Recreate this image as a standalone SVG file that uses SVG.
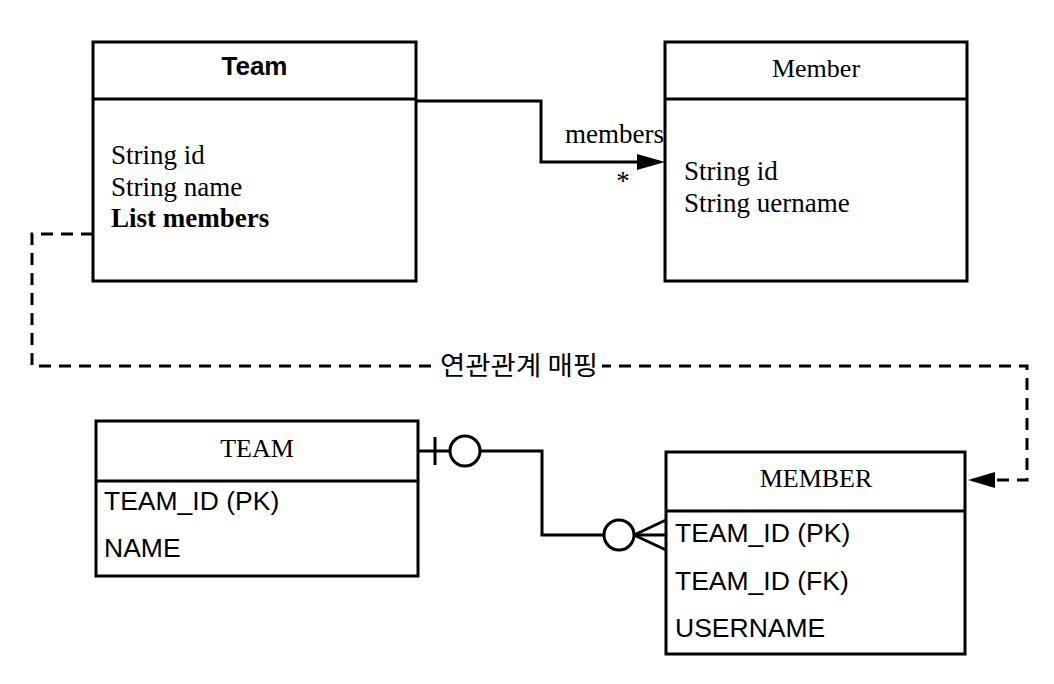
<svg xmlns="http://www.w3.org/2000/svg" width="1054" height="684" viewBox="0 0 1054 684">
<style>
.box{fill:#fff;stroke:#000;stroke-width:3}
.div{stroke:#000;stroke-width:3}
.ln{fill:none;stroke:#000;stroke-width:3}
.dash{fill:none;stroke:#000;stroke-width:3;stroke-dasharray:12 8}
.serif{font-family:"Liberation Serif","Times New Roman",serif;font-size:27px;fill:#000}
.head{font-family:"Liberation Serif","Times New Roman",serif;font-size:26px;fill:#000}
.sans{font-family:"Liberation Sans",Arial,sans-serif;font-size:26.5px;fill:#000}
.title{font-family:"Liberation Sans",Arial,sans-serif;font-size:26px;font-weight:bold;fill:#000}
.kr{font-family:"Noto Sans CJK KR","Noto Sans",sans-serif;font-size:26px;fill:#000}
</style>
<rect width="1054" height="684" fill="#fff"/>
<g id="connectors">
  <path class="ln" d="M416,101 H541 V162 H640"/>
  <polygon points="665,162 637,154 637,170" fill="#000"/>
  <text class="serif" x="664" y="143" text-anchor="end">members</text>
  <text class="serif" x="623" y="190" text-anchor="middle">*</text>
  <path class="dash" d="M93,234 H32 V366 H1027 V480 H995"/>
  <polygon points="968,480 995,472 995,488" fill="#000"/>
  <rect x="438" y="350" width="164" height="30" fill="#fff"/>
  <text class="kr" x="440" y="375" textLength="158" lengthAdjust="spacingAndGlyphs">연관관계 매핑</text>
  <path class="ln" d="M418,451 H542 V535 H665"/>
  <line class="ln" x1="435" y1="437" x2="435" y2="465"/>
  <circle cx="465" cy="451" r="15" class="box"/>
  <circle cx="619" cy="535" r="15" class="box"/>
  <path class="ln" d="M634,535 L666,520 M634,535 L666,550"/>
</g>
<g id="team-class">
  <rect class="box" x="93" y="42" width="323" height="239"/>
  <line class="div" x1="93" y1="99" x2="416" y2="99"/>
  <text class="title" x="254.5" y="75" text-anchor="middle">Team</text>
  <text class="serif" x="111" y="164">String id</text>
  <text class="serif" x="111" y="196">String name</text>
  <text class="serif" x="111" y="227" font-weight="bold">List members</text>
</g>
<g id="member-class">
  <rect class="box" x="665" y="42" width="302" height="239"/>
  <line class="div" x1="665" y1="99" x2="967" y2="99"/>
  <text class="head" x="816" y="77" text-anchor="middle">Member</text>
  <text class="serif" x="684" y="180">String id</text>
  <text class="serif" x="684" y="212">String uername</text>
</g>
<g id="team-table">
  <rect class="box" x="96" y="421" width="322" height="155"/>
  <line class="div" x1="96" y1="481" x2="418" y2="481"/>
  <text class="head" x="257" y="457" text-anchor="middle">TEAM</text>
  <text class="sans" x="104" y="510">TEAM_ID (PK)</text>
  <text class="sans" x="104" y="557">NAME</text>
</g>
<g id="member-table">
  <rect class="box" x="666" y="452" width="299" height="202"/>
  <line class="div" x1="666" y1="511" x2="965" y2="511"/>
  <text class="head" x="816" y="487" text-anchor="middle">MEMBER</text>
  <text class="sans" x="675" y="542">TEAM_ID (PK)</text>
  <text class="sans" x="675" y="590">TEAM_ID (FK)</text>
  <text class="sans" x="675" y="637">USERNAME</text>
</g>
</svg>
